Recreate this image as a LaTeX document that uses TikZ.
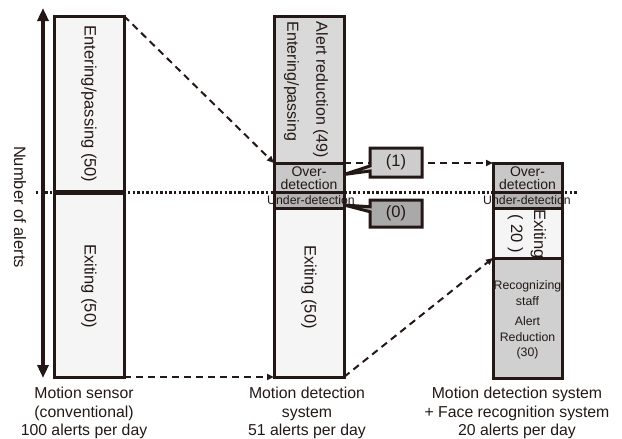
\documentclass[tikz,border=0pt]{standalone}
\usepackage{fontspec}
\setmainfont{Liberation Sans}
\usetikzlibrary{arrows.meta,shapes.callouts,calc}
\definecolor{ink}{HTML}{231815}
\definecolor{lightA}{HTML}{F5F5F5}
\definecolor{grayA}{HTML}{D9D9D9}
\definecolor{grayB}{HTML}{C8C8C8}
\definecolor{grayC}{HTML}{B4B4B4}
\definecolor{grayD}{HTML}{D0D0D0}
\definecolor{callA}{HTML}{CDCDCD}
\definecolor{callB}{HTML}{A9A9A9}
\begin{document}
\begin{tikzpicture}[x=1pt,y=-1pt,
  seg/.style={draw=ink, line width=3pt, inner sep=0pt, outer sep=0pt, minimum width=70pt},
  rottext/.style={rotate=-90, text=ink, inner sep=0pt, font=\fontsize{16.5}{29}\selectfont},
  smalltext/.style={text=ink, inner sep=0pt, align=center},
  dashline/.style={draw=ink, line width=2pt, dash pattern=on 7pt off 5pt, -{Triangle[length=7pt,width=6pt]}},
  callbox/.style={rectangle callout, draw=ink, line width=3pt, inner sep=0pt, minimum width=52pt, callout pointer width=5pt, text=ink, font=\fontsize{16.5}{18}\selectfont},
  caption/.style={text=ink, inner sep=0pt, align=center, anchor=north, font=\fontsize{15.8}{18.5}\selectfont}
]
\useasboundingbox (0,0) rectangle (622,439);

% axis
\coordinate (axtop) at (43,8);
\coordinate (axbot) at (43,378);
\draw[ink, line width=4pt, {Triangle[length=13pt,width=11pt]}-{Triangle[length=13pt,width=11pt]}] (axbot) -- (axtop);
\node[rottext] (axlabel) at (20,207) {Number of alerts};

% dotted threshold
\coordinate (dotL) at (36,192.5);
\coordinate (dotR) at (577,192.5);
\draw[ink, line width=2.6pt, dash pattern=on 2.4pt off 2.2pt] (dotL) -- (dotR);

% box 1
\node[seg, fill=lightA, minimum height=176pt] (up1) at (89,104) {};
\node[seg, fill=lightA, minimum height=185pt] (low1) at (89,284.5) {};
\draw[ink, line width=5pt] (up1.south west) -- (up1.south east);
\node[rottext] (t1a) at (89,104) {Entering/passing (50)};
\node[rottext] (t1b) at (89,286) {Exiting (50)};

% box 2
\node[seg, fill=grayA, minimum height=147pt] (top2) at (309,89.5) {};
\node[seg, fill=grayB, minimum height=29pt] (over2) at (309,177.5) {};
\node[seg, fill=grayC, minimum height=16pt] (under2) at (309,200) {};
\node[seg, fill=lightA, minimum height=169pt] (exit2) at (309,292.5) {};
\node[rottext, align=left, font=\fontsize{16}{29}\selectfont] (t2a) at (306,90) {Alert reduction (49)\\Entering/passing};
\node[smalltext, font=\fontsize{14}{12.5}\selectfont] (t2b) at (309,178) {Over-\\detection};
\node[smalltext, font=\fontsize{12.3}{12}\selectfont] (t2c) at (311,200.5) {Under-detection};
\node[rottext] (t2d) at (309,287) {Exiting (50)};

% box 3
\node[seg, fill=grayB, minimum width=69pt, minimum height=29pt] (over3) at (527.5,177.5) {};
\node[seg, fill=grayC, minimum width=69pt, minimum height=16pt] (under3) at (527.5,200) {};
\node[seg, fill=lightA, minimum width=69pt, minimum height=50pt] (exit3) at (527.5,233) {};
\node[rottext, align=center, font=\fontsize{16.5}{23}\selectfont] (t3c) at (527,234) {Exiting\\( 20 )};
\node[seg, fill=grayD, minimum width=69pt, minimum height=120pt] (recog3) at (527.5,318) {};
\node[smalltext, font=\fontsize{14}{12.5}\selectfont] (t3a) at (527.5,178) {Over-\\detection};
\node[smalltext, font=\fontsize{12.3}{12}\selectfont] (t3b) at (527,200.5) {Under-detection};
\node[smalltext, font=\fontsize{12.3}{15.5}\selectfont] (t3d) at (527.5,320) {Recognizing\\staff\\[5pt]Alert\\Reduction\\(30)};

% connectors
\draw[dashline] (up1.north east) -- (over2.north west);
\draw[dashline] (low1.south east) -- (exit2.south west);
\draw[dashline] (exit2.south east) -- (recog3.north west);
\draw[dashline] (over2.north east) -- (over3.north west);

% callouts
\node[callbox, fill=callA, minimum height=29pt, callout absolute pointer={($(over2.east)+(0,-3)$)}] (c1) at (396,162.5) {(1)};
\node[callbox, fill=callB, minimum height=27pt, callout absolute pointer={($(under2.east)+(0,5)$)}] (c0) at (396,213.5) {(0)};

% captions
\node[caption] (cap1) at (84,387) {Motion sensor\\(conventional)\\100 alerts per day};
\node[caption] (cap2) at (307,387) {Motion detection\\system\\51 alerts per day};
\node[caption] (cap3) at (517,387) {Motion detection system\\+ Face recognition system\\20 alerts per day};
\end{tikzpicture}
\end{document}
